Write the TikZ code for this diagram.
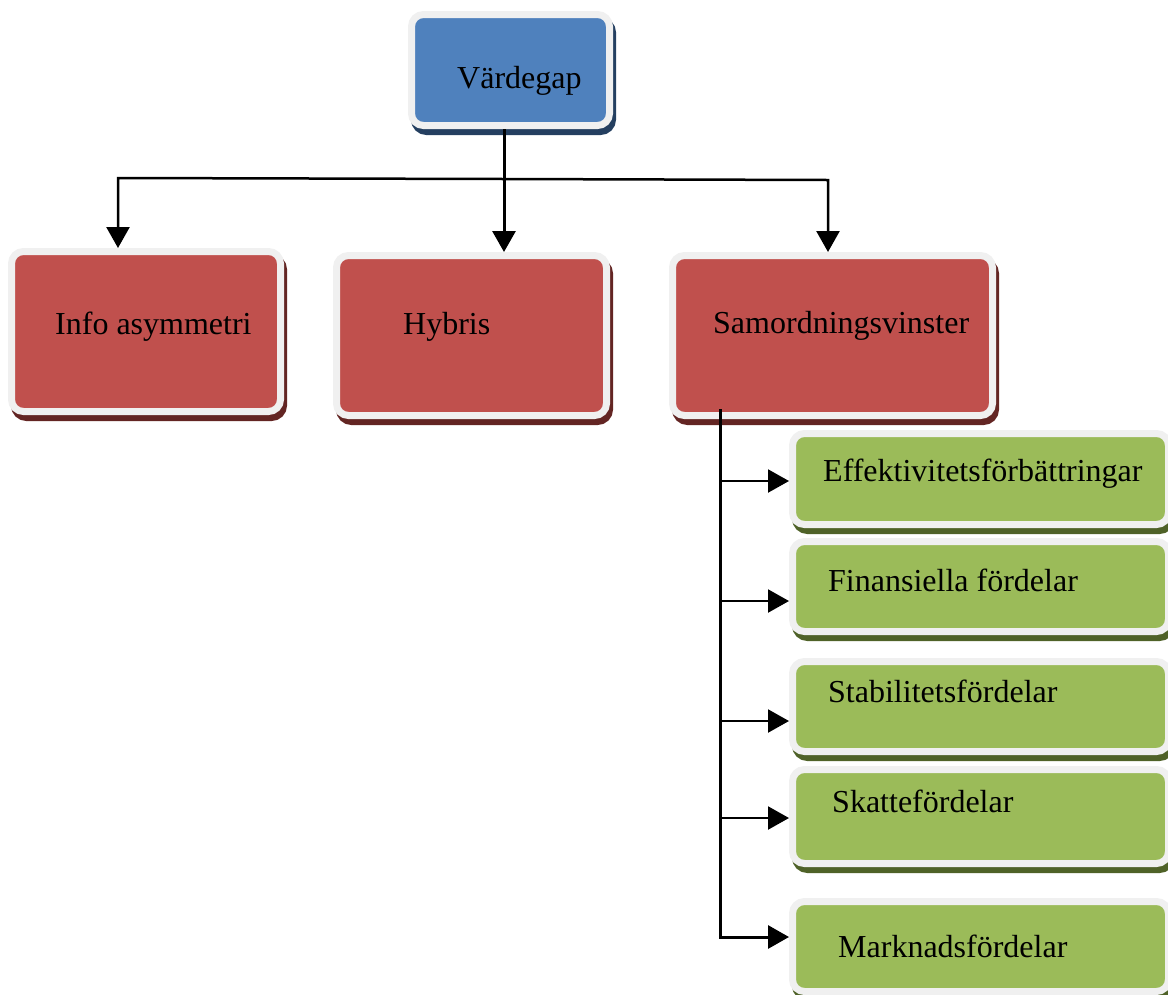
\documentclass[tikz,border=0pt]{standalone}
\usepackage{fontspec}
\setmainfont{Liberation Serif}
\usetikzlibrary{arrows.meta}
\definecolor{vblue}{HTML}{4F81BD}
\definecolor{vblueS}{HTML}{243F60}
\definecolor{vred}{HTML}{C0504D}
\definecolor{vredS}{HTML}{632523}
\definecolor{vgreen}{HTML}{9BBB59}
\definecolor{vgreenS}{HTML}{4F6228}
\definecolor{rim}{HTML}{F0F0F0}
\tikzset{
  box/.style={rectangle, rounded corners=12pt, draw=rim, line width=7pt, inner sep=0pt},
  shade/.style={preaction={fill=#1, draw=#1, transform canvas={shift={(3pt,-6pt)}}}},
  bluebox/.style={box, fill=vblue, shade=vblueS},
  redbox/.style={box, fill=vred, shade=vredS},
  greenbox/.style={box, fill=vgreen, shade=vgreenS, minimum width=376pt},
  lbl/.style={anchor=base west, inner sep=0pt, font=\fontsize{32}{38}\selectfont},
  conn/.style={draw=black, line width=3pt, line join=miter},
  arr/.style={conn, -{Triangle[length=21pt,width=23pt]}}
}
\begin{document}
\begin{tikzpicture}[x=1pt,y=-1pt]
\useasboundingbox (0,0) rectangle (1168,994);
% boxes
\node[bluebox, minimum width=198pt, minimum height=111pt] (vg) at (510.5,70) {};
\node[redbox, minimum width=269pt, minimum height=160pt] (ia) at (146,331.5) {};
\node[redbox, minimum width=270pt, minimum height=160pt] (hy) at (471.5,335.5) {};
\node[redbox, minimum width=320pt, minimum height=160pt] (sv) at (832.5,335.5) {};
\node[greenbox, minimum height=91pt] (ef) at (980.5,479) {};
\node[greenbox, minimum height=90pt] (fi) at (980.5,586.5) {};
\node[greenbox, minimum height=90pt] (st) at (980.5,706.5) {};
\node[greenbox, minimum height=94pt] (sk) at (980.5,816.5) {};
\node[greenbox, minimum height=90pt] (mk) at (980.5,946.5) {};
% labels
\node[lbl] (tvg) at (457,88) {Värdegap};
\node[lbl] (tia) at (55,334) {Info asymmetri};
\node[lbl] (thy) at (403,334) {Hybris};
\node[lbl] (tsv) at (713,333) {Samordningsvinster};
\node[lbl] (tef) at (823,481) {Effektivitetsförbättringar};
\node[lbl] (tfi) at (828,591) {Finansiella fördelar};
\node[lbl] (tst) at (828,702) {Stabilitetsfördelar};
\node[lbl] (tsk) at (832,812) {Skattefördelar};
\node[lbl] (tmk) at (838,957) {Marknadsfördelar};
% top connectors
\coordinate (hl) at (118,178);
\coordinate (hm) at (504,179);
\coordinate (hr) at (828,180);
\draw[arr] (vg.south -| hm) -- (hy.north -| hm);
\draw[arr, line width=2.5pt] (hm) -- (hl) -- (hl |- ia.north);
\draw[arr, line width=2.5pt] (hm) -- (hr) -- (hr |- sv.north);
% right trunk
\coordinate (s0) at (720,409);
\coordinate (b1) at (720,481);
\coordinate (b2) at (720,601);
\coordinate (b3) at (720,721);
\coordinate (b4) at (720,818);
\coordinate (b5) at (720,937);
\draw[arr] (s0) -- (b5) -- (b5 -| mk.west);
\draw[arr, line width=2.2pt] (b1) -- (b1 -| ef.west);
\draw[arr, line width=2.2pt] (b2) -- (b2 -| fi.west);
\draw[arr, line width=2.2pt] (b3) -- (b3 -| st.west);
\draw[arr, line width=2.2pt] (b4) -- (b4 -| sk.west);
\end{tikzpicture}
\end{document}
